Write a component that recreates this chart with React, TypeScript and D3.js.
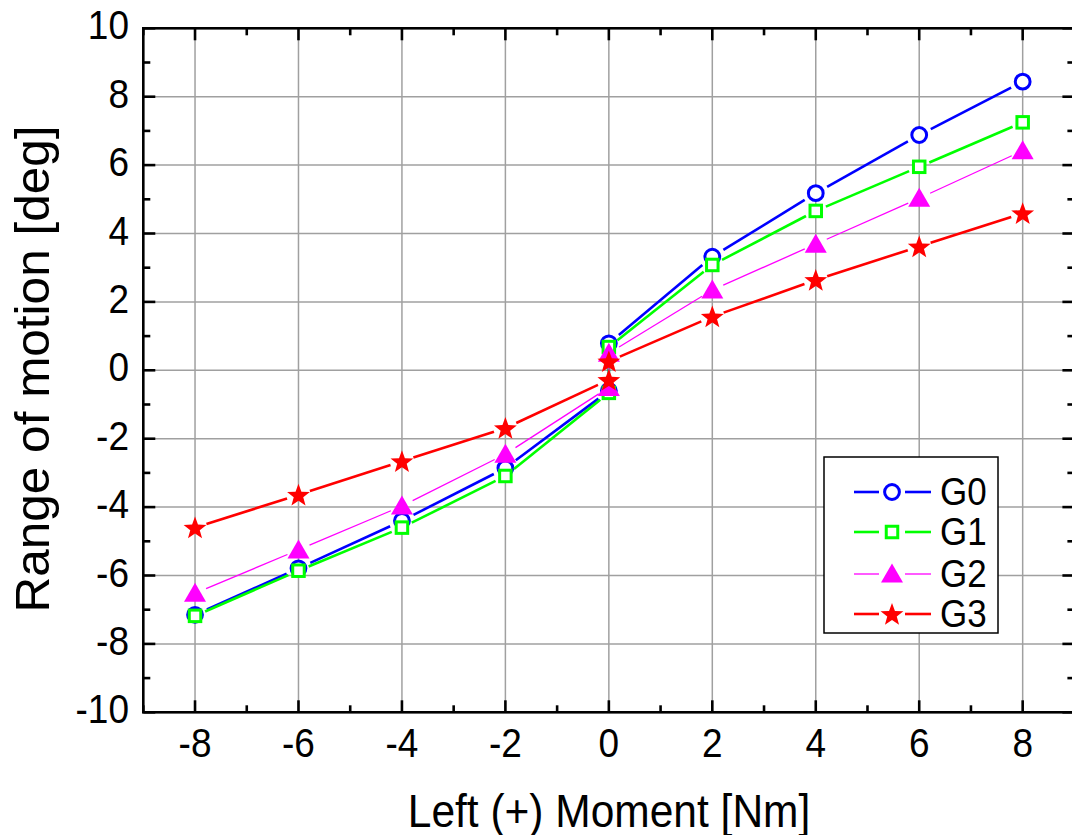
import React from "react";
import * as d3 from "d3";

const moments = [-8, -6, -4, -2, 0, 0, 2, 4, 6, 8];
const g0 = [-7.15, -5.79, -4.4, -2.86, -0.6, 0.79, 3.32, 5.18, 6.88, 8.44];
const g1 = [-7.18, -5.86, -4.6, -3.09, -0.66, 0.68, 3.08, 4.66, 5.95, 7.25];
const g2 = [-6.52, -5.25, -3.97, -2.45, -0.5, 0.5, 2.35, 3.69, 5.03, 6.42];
const g3 = [-4.6, -3.64, -2.66, -1.69, -0.28, 0.26, 1.57, 2.64, 3.62, 4.59];
const seriesNames = ["G0", "G1", "G2", "G3"];
const xTicks = [-8, -6, -4, -2, 0, 2, 4, 6, 8];
const yTicks = [-10, -8, -6, -4, -2, 0, 2, 4, 6, 8, 10];
const xTitle = "Left (+) Moment [Nm]";
const yTitle = "Range of motion [deg]";

const W = 1072;
const H = 835;
const FONT = "Liberation Sans, Arial, sans-serif";
const STRETCH = 1.1;

const x = d3.scaleLinear().domain([-9, 9]).range([143.3, 1074.4]);
const y = d3.scaleLinear().domain([-10, 10]).range([712.3, 28.3]);

type Style = { color: string; width: number; marker: string; gap: number };
const styles: Style[] = [
  { color: "#0000ff", width: 2.6, marker: "circle", gap: 13 },
  { color: "#00ff00", width: 2.6, marker: "square", gap: 11 },
  { color: "#ff00ff", width: 1.3, marker: "triangle", gap: 12 },
  { color: "#ff0000", width: 2.6, marker: "star", gap: 12 },
];

function starPath(cx: number, cy: number, R: number, r: number) {
  const pts: string[] = [];
  for (let i = 0; i < 10; i++) {
    const a = -Math.PI / 2 + (i * Math.PI) / 5;
    const rad = i % 2 === 0 ? R : r;
    pts.push(`${(cx + rad * Math.cos(a)).toFixed(2)},${(cy + rad * Math.sin(a)).toFixed(2)}`);
  }
  return "M" + pts.join("L") + "Z";
}

function Marker({ kind, cx, cy, color, scale = 1 }: { kind: string; cx: number; cy: number; color: string; scale?: number }) {
  if (kind === "circle") {
    return <circle cx={cx} cy={cy} r={7.4 * scale} fill="white" stroke={color} strokeWidth={3} />;
  }
  if (kind === "square") {
    const s = 11.5 * scale;
    return <rect x={cx - s / 2} y={cy - s / 2} width={s} height={s} fill="white" stroke={color} strokeWidth={3} />;
  }
  if (kind === "triangle") {
    const w = 22 * scale;
    const h = 19 * scale;
    const p = `M${cx},${cy - h * 0.55}L${cx + w / 2},${cy + h * 0.45}L${cx - w / 2},${cy + h * 0.45}Z`;
    return <path d={p} fill={color} />;
  }
  return <path d={starPath(cx, cy + 1, 12 * scale, 5 * scale)} fill={color} />;
}

function gappedSegments(pts: [number, number][], gap: number) {
  const segs: [number, number, number, number][] = [];
  for (let i = 0; i < pts.length - 1; i++) {
    const [x1, y1] = pts[i];
    const [x2, y2] = pts[i + 1];
    const dx = x2 - x1;
    const dy = y2 - y1;
    const len = Math.hypot(dx, dy);
    if (len <= 2 * gap) continue;
    const ux = dx / len;
    const uy = dy / len;
    segs.push([x1 + ux * gap, y1 + uy * gap, x2 - ux * gap, y2 - uy * gap]);
  }
  return segs;
}

function SText({ x: tx, y: ty, size, anchor = "start", children }: { x: number; y: number; size: number; anchor?: string; children: React.ReactNode }) {
  return (
    <text transform={`translate(${tx},${ty}) scale(1,${STRETCH})`} fontSize={size} textAnchor={anchor} fill="black">
      {children}
    </text>
  );
}

export default function App() {
  const data = [g0, g1, g2, g3];
  const left = x.range()[0];
  const right = x.range()[1];
  const top = y.range()[1];
  const bottom = y.range()[0];
  const xMinor = d3.range(-9, 10, 1).filter((v) => Math.abs(v) % 2 === 1);
  const yMinor = d3.range(-9, 10, 1).filter((v) => Math.abs(v) % 2 === 1);
  const legendRows = [492, 532, 574, 614];

  return (
    <svg width={W} height={H} style={{ position: "absolute", left: 0, top: 0, background: "white" }} fontFamily={FONT}>
      <rect x={0} y={0} width={W} height={H} fill="white" />
      <g stroke="#a0a0a0" strokeWidth={1.5}>
        {xTicks.map((t) => (
          <line key={"gx" + t} x1={x(t)} x2={x(t)} y1={top} y2={bottom} />
        ))}
        {yTicks.slice(1, -1).map((t) => (
          <line key={"gy" + t} x1={left} x2={right} y1={y(t)} y2={y(t)} />
        ))}
      </g>
      {data.map((vals, si) => {
        const st = styles[si];
        const pts: [number, number][] = vals.map((v, i) => [x(moments[i]), y(v)]);
        const segs = gappedSegments(pts, st.gap);
        return (
          <g key={"s" + si}>
            {segs.map((s, i) => (
              <line key={i} x1={s[0]} y1={s[1]} x2={s[2]} y2={s[3]} stroke={st.color} strokeWidth={st.width} />
            ))}
            {pts.map((p, i) => (
              <Marker key={"m" + i} kind={st.marker} cx={p[0]} cy={p[1]} color={st.color} />
            ))}
          </g>
        );
      })}
      <rect x={left} y={top} width={right - left} height={bottom - top} fill="none" stroke="black" strokeWidth={2.6} />
      <g stroke="black" strokeWidth={2.6}>
        {xTicks.map((t) => (
          <g key={"tx" + t}>
            <line x1={x(t)} x2={x(t)} y1={bottom} y2={bottom - 12} />
            <line x1={x(t)} x2={x(t)} y1={top} y2={top + 12} />
          </g>
        ))}
        {xMinor.map((t) => (
          <g key={"txm" + t}>
            <line x1={x(t)} x2={x(t)} y1={bottom} y2={bottom - 7} />
            <line x1={x(t)} x2={x(t)} y1={top} y2={top + 7} />
          </g>
        ))}
        {yTicks.map((t) => (
          <g key={"ty" + t}>
            <line x1={left} x2={left + 12} y1={y(t)} y2={y(t)} />
            <line x1={right} x2={right - 12} y1={y(t)} y2={y(t)} />
          </g>
        ))}
        {yMinor.map((t) => (
          <g key={"tym" + t}>
            <line x1={left} x2={left + 7} y1={y(t)} y2={y(t)} />
            <line x1={right} x2={right - 7} y1={y(t)} y2={y(t)} />
          </g>
        ))}
      </g>
      {xTicks.map((t) => (
        <SText key={"lx" + t} x={x(t)} y={757} size={37} anchor="middle">
          {t}
        </SText>
      ))}
      {yTicks.map((t) => (
        <SText key={"ly" + t} x={129} y={y(t) + 11} size={37} anchor="end">
          {t}
        </SText>
      ))}
      <SText x={609} y={827} size={42.5} anchor="middle">
        {xTitle}
      </SText>
      <text transform={`translate(49,369) scale(1.05,1.1) rotate(-90)`} fontSize={45} textAnchor="middle" fill="black">
        {yTitle}
      </text>
      <rect x={824} y={457} width={174} height={176} fill="white" stroke="black" strokeWidth={1.5} />
      {seriesNames.map((name, i) => {
        const st = styles[i];
        const ry = legendRows[i];
        return (
          <g key={"lg" + i}>
            <line x1={854} x2={879} y1={ry} y2={ry} stroke={st.color} strokeWidth={st.width} />
            <line x1={905} x2={931} y1={ry} y2={ry} stroke={st.color} strokeWidth={st.width} />
            <Marker kind={st.marker} cx={892} cy={ry} color={st.color} scale={1} />
            <SText x={940} y={ry + 13} size={35}>
              {name}
            </SText>
          </g>
        );
      })}
    </svg>
  );
}
